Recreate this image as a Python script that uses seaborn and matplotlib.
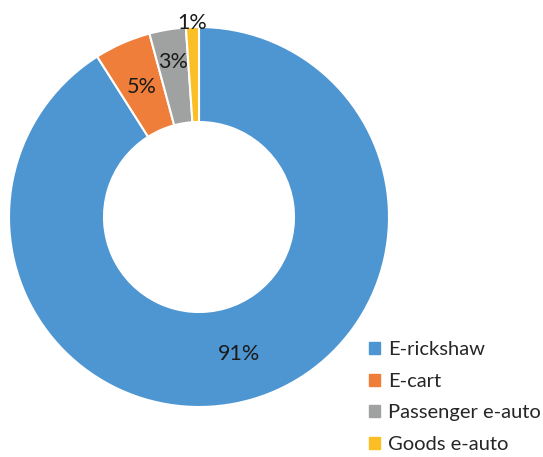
import matplotlib
matplotlib.use("Agg")
import matplotlib.pyplot as plt
import matplotlib.patches as mpatches
import seaborn as sns

# vehicle share data
categories = ["E-rickshaw", "E-cart", "Passenger e-auto", "Goods e-auto"]
shares = [91.0, 4.8, 3.1, 1.1]
pct_labels = ["91%", "5%", "3%", "1%"]
colors = ["#4E96D2", "#EE7E39", "#A0A2A2", "#FCBE25"]

sns.set_theme(style="white")
plt.rcParams["font.family"] = ["Lato", "DejaVu Sans"]

fig = plt.figure(figsize=(5.43, 4.57), dpi=100)
W, H = 543, 457
cx, cy, r = 199, 217, 190
ax = fig.add_axes([(cx - r) / W, (H - cy - r) / H, 2 * r / W, 2 * r / H])

palette = sns.color_palette(colors)
wedges, texts = ax.pie(shares, colors=palette, startangle=90, counterclock=False,
                       labels=pct_labels, labeldistance=0.75,
                       wedgeprops=dict(width=0.5, edgecolor="white", linewidth=1.5),
                       textprops=dict(fontsize=15.5, color="#1a1a1a", ha="center", va="center"))

# small slices: push labels outward a bit
push = [1.0, 1.0, 1.1, 1.36]
for t, k in zip(texts, push):
    x, y = t.get_position()
    t.set_position((x * k, y * k))
    t.set_ha("center")

ax.set_xlim(-1, 1)
ax.set_ylim(-1, 1)
ax.set_aspect("equal")

handles = [mpatches.Patch(color=c, label=l) for c, l in zip(palette, categories)]
fig.legend(handles=handles, loc="lower left", bbox_to_anchor=(365 / W, 0 / H),
           frameon=False, fontsize=14.5, handlelength=0.55, handleheight=0.55,
           handletextpad=0.4, labelspacing=0.72, borderaxespad=0, borderpad=0.2)

fig.savefig("out.png", dpi=100)
